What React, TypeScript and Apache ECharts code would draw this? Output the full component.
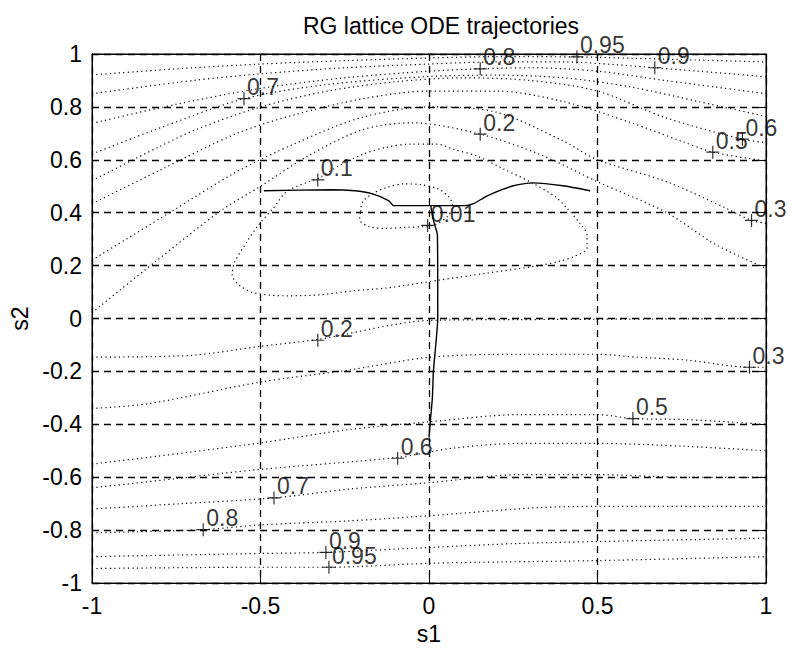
import React, { useEffect, useRef } from "react";
import * as echarts from "echarts";

// ---- axes ----
const xRange = [-1, 1];
const yRange = [-1, 1];
const xStep = 0.5;
const yStep = 0.2;

// ---- contour lines (s1, s2) ----
const c020Upper = [[-1, 0.022], [-0.81, 0.217], [-0.617, 0.408], [-0.5, 0.5], [-0.36, 0.614], [-0.194, 0.715], [-0.05, 0.74], [0.152, 0.697], [0.33, 0.62], [0.5, 0.517], [0.706, 0.4], [0.85, 0.28], [1, 0.19]];
const c030Upper = [[-1, 0.221], [-0.76, 0.408], [-0.572, 0.554], [-0.4, 0.66], [-0.2, 0.76], [0, 0.8], [0.2, 0.78], [0.4, 0.67], [0.5, 0.6], [0.706, 0.517], [0.883, 0.416], [0.957, 0.371], [1, 0.36]];
const c050Upper = [[-1, 0.434], [-0.8, 0.56], [-0.57, 0.7], [-0.4, 0.77], [-0.2, 0.83], [0, 0.86], [0.2, 0.86], [0.4, 0.82], [0.6, 0.74], [0.75, 0.67], [0.842, 0.629], [1, 0.596]];
const c060Upper = [[-1, 0.521], [-0.8, 0.65], [-0.69, 0.715], [-0.5, 0.8], [-0.3, 0.86], [-0.1, 0.895], [0.1, 0.91], [0.3, 0.9], [0.5, 0.86], [0.7, 0.76], [0.93, 0.678], [1, 0.665]];
const c070Upper = [[-1, 0.622], [-0.81, 0.715], [-0.549, 0.831], [-0.3, 0.885], [0, 0.915], [0.2, 0.92], [0.4, 0.91], [0.6, 0.875], [0.8, 0.82], [1, 0.764]];
const c080Upper = [[-1, 0.738], [-0.75, 0.81], [-0.5, 0.87], [-0.25, 0.91], [0, 0.935], [0.152, 0.944], [0.3, 0.948], [0.5, 0.935], [0.7, 0.9], [0.85, 0.875], [1, 0.85]];
const c090Upper = [[-1, 0.85], [-0.7, 0.9], [-0.5, 0.925], [-0.25, 0.948], [0, 0.962], [0.2, 0.97], [0.4, 0.97], [0.55, 0.96], [0.67, 0.948], [0.8, 0.935], [1, 0.914]];
const c095Upper = [[-1, 0.921], [-0.7, 0.948], [-0.5, 0.962], [-0.25, 0.975], [0, 0.985], [0.2, 0.99], [0.439, 0.989], [0.6, 0.984], [0.8, 0.977], [1, 0.97]];

const c020Lower = [[-1, -0.146], [-0.706, -0.139], [-0.501, -0.105], [-0.33, -0.079], [0.004, -0.007], [0.271, -0.004], [1, 0.0]];
const c030Lower = [[-1, -0.34], [-0.833, -0.322], [-0.5, -0.24], [-0.24, -0.195], [0.004, -0.146], [0.27, -0.135], [0.498, -0.135], [0.617, -0.146], [0.765, -0.157], [0.951, -0.184], [1, -0.184]];
const c050Lower = [[-1, -0.55], [-0.803, -0.52], [-0.5, -0.47], [-0.24, -0.42], [0.004, -0.39], [0.27, -0.363], [0.498, -0.363], [0.605, -0.378], [0.765, -0.382], [1, -0.4]];
const c060Lower = [[-1, -0.64], [-0.75, -0.605], [-0.5, -0.57], [-0.093, -0.525], [0.07, -0.49], [0.27, -0.472], [0.498, -0.472], [0.765, -0.483], [1, -0.5]];
const c070Lower = [[-1, -0.72], [-0.74, -0.7], [-0.46, -0.678], [-0.24, -0.645], [0.004, -0.62], [0.27, -0.59], [0.498, -0.59], [0.765, -0.6], [1, -0.6]];
const c080Lower = [[-1, -0.81], [-0.67, -0.798], [-0.5, -0.78], [-0.24, -0.765], [0.004, -0.745], [0.32, -0.715], [0.498, -0.71], [1, -0.71]];
const c090Lower = [[-1, -0.9], [-0.5, -0.888], [-0.306, -0.884], [0.004, -0.865], [0.27, -0.85], [0.498, -0.843], [1, -0.83]];
const c095Lower = [[-1, -0.945], [-0.5, -0.94], [-0.297, -0.94], [0.004, -0.925], [0.22, -0.92], [0.498, -0.915], [1, -0.9]];

const c010Loop = [[-0.33, 0.528], [-0.262, 0.581], [-0.194, 0.622], [-0.123, 0.648], [-0.055, 0.659], [0.025, 0.659], [0.072, 0.64], [0.143, 0.614], [0.22, 0.566], [0.3, 0.517], [0.374, 0.461], [0.41, 0.416], [0.448, 0.36], [0.469, 0.315], [0.469, 0.266], [0.433, 0.236], [0.389, 0.217], [0.321, 0.199], [0.173, 0.172], [0.034, 0.146], [-0.123, 0.116], [-0.223, 0.105], [-0.321, 0.09], [-0.419, 0.086], [-0.519, 0.097], [-0.564, 0.127], [-0.584, 0.165], [-0.578, 0.21], [-0.543, 0.285], [-0.507, 0.352], [-0.463, 0.416], [-0.419, 0.483], [-0.33, 0.528]];
const c001Loop = [[-0.203, 0.404], [-0.197, 0.442], [-0.167, 0.472], [-0.129, 0.494], [-0.075, 0.509], [-0.025, 0.506], [0.025, 0.491], [0.058, 0.461], [0.07, 0.427], [0.055, 0.386], [0.019, 0.356], [-0.016, 0.348], [-0.064, 0.345], [-0.129, 0.341], [-0.179, 0.348], [-0.206, 0.375], [-0.203, 0.404]];

// ---- RG flow trajectories ----
const trajLeft = [[-0.49, 0.483], [-0.29, 0.487], [-0.22, 0.483], [-0.17, 0.472], [-0.12, 0.446], [-0.105, 0.427], [0.005, 0.427]];
const trajRight = [[0.478, 0.483], [0.398, 0.502], [0.309, 0.513], [0.25, 0.502], [0.173, 0.464], [0.132, 0.434], [0.108, 0.427], [0.005, 0.427]];
const trajDown = [[0.005, 0.427], [0.014, 0.367], [0.025, 0.315], [0.026, 0.0], [0.02, -0.1], [0.013, -0.2], [0.01, -0.3], [0.003, -0.4], [0.0, -0.45]];

// ---- contour labels: position of "+" and its text ----
const labelS1 = [-0.549, 0.152, 0.439, 0.67, 0.152, 0.842, 0.93, 0.957, -0.33, -0.004, -0.33, 0.951, 0.605, -0.093, -0.46, -0.67, -0.306, -0.297];
const labelS2 = [0.831, 0.944, 0.989, 0.948, 0.697, 0.629, 0.678, 0.371, 0.524, 0.352, -0.082, -0.184, -0.378, -0.528, -0.678, -0.798, -0.884, -0.94];
const labelText = ["0.7", "0.8", "0.95", "0.9", "0.2", "0.5", "0.6", "0.3", "0.1", "0.01", "0.2", "0.3", "0.5", "0.6", "0.7", "0.8", "0.9", "0.95"];

const FONT = "'Liberation Sans', Arial, Helvetica, sans-serif";
const FS = 23;

const contourLines = [
  c020Upper, c030Upper, c050Upper, c060Upper, c070Upper, c080Upper, c090Upper, c095Upper,
  c020Lower, c030Lower, c050Lower, c060Lower, c070Lower, c080Lower, c090Lower, c095Lower,
  c010Loop, c001Loop,
];
const trajectories = [trajLeft, trajRight, trajDown];

export default function App() {
  const ref = useRef<HTMLDivElement>(null);
  useEffect(() => {
    if (!ref.current) return;
    const chart = echarts.init(ref.current, undefined, { renderer: "svg" });
    const axisCommon = {
      type: "value" as const,
      axisLine: { show: true, onZero: false, lineStyle: { color: "#000", width: 1 } },
      axisTick: { show: true, inside: true, length: 7, lineStyle: { color: "#000" } },
    };
    const series: any[] = [];
    contourLines.forEach((pts) => {
      series.push({
        type: "line",
        data: pts,
        showSymbol: false,
        symbol: "none",
        smooth: 0.3,
        silent: true,
        clip: true,
        lineStyle: { color: "#000", width: 1.2, type: [1.2, 3.3] },
        z: 3,
      });
    });
    trajectories.forEach((pts) => {
      series.push({
        type: "line",
        data: pts,
        showSymbol: false,
        symbol: "none",
        smooth: 0.2,
        silent: true,
        lineStyle: { color: "#000", width: 1.4, type: "solid" },
        z: 4,
      });
    });
    series.push({
      type: "scatter",
      data: labelS1.map((s, i) => ({ value: [s, labelS2[i]], name: labelText[i] })),
      symbol: "path://M0 6 L12 6 M6 0 L6 12",
      symbolSize: 13,
      silent: true,
      clip: false,
      itemStyle: { color: "none", borderColor: "#000", borderWidth: 1.2 },
      label: {
        show: true,
        formatter: (p: any) => p.name,
        position: [12, -14],
        color: "#000",
        fontFamily: FONT,
        fontSize: FS,
      },
      z: 5,
    });

    chart.setOption({
      animation: false,
      backgroundColor: "#fff",
      title: {
        text: "RG lattice ODE trajectories",
        left: 436,
        top: 9,
        textAlign: "center",
        textStyle: { color: "#000", fontWeight: "normal", fontFamily: FONT, fontSize: FS },
      },
      grid: { left: 91, right: 29, top: 54, bottom: 63, show: true, borderColor: "#000", borderWidth: 1, backgroundColor: "transparent" },
      xAxis: [
        {
          ...axisCommon,
          min: xRange[0], max: xRange[1], interval: xStep,
          position: "bottom",
          name: "s1", nameLocation: "middle", nameGap: 32,
          nameTextStyle: { color: "#000", fontFamily: FONT, fontSize: FS },
          axisLabel: { color: "#000", fontFamily: FONT, fontSize: FS, margin: 11 },
          splitLine: { show: true, lineStyle: { color: "#000", width: 1.3, type: [7, 5] } },
        },
        {
          ...axisCommon,
          min: xRange[0], max: xRange[1], interval: xStep,
          position: "top",
          axisLabel: { show: false },
          splitLine: { show: false },
        },
      ],
      yAxis: [
        {
          ...axisCommon,
          min: yRange[0], max: yRange[1], interval: yStep,
          position: "left",
          name: "s2", nameLocation: "middle", nameGap: 61,
          nameTextStyle: { color: "#000", fontFamily: FONT, fontSize: FS },
          axisLabel: { color: "#000", fontFamily: FONT, fontSize: FS, margin: 10, formatter: (v: number) => String(Math.round(v * 10) / 10) },
          splitLine: { show: true, lineStyle: { color: "#000", width: 1.3, type: [7, 5] } },
        },
        {
          ...axisCommon,
          min: yRange[0], max: yRange[1], interval: yStep,
          position: "right",
          axisLabel: { show: false },
          splitLine: { show: false },
        },
      ],
      series,
    });
    return () => chart.dispose();
  }, []);
  return <div ref={ref} style={{ position: "fixed", left: 0, top: 0, width: 795, height: 650, background: "#fff" }} />;
}
